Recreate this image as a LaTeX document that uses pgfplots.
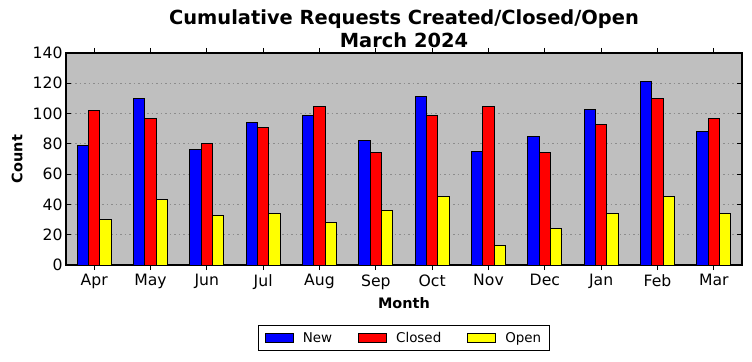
\documentclass[border=0pt]{standalone}
\usepackage{pgfplots}
\pgfplotsset{compat=1.18}
\usepackage{fontspec}
\setmainfont{DejaVu Sans}
\definecolor{bgc}{RGB}{191,191,191}
\definecolor{gridc}{RGB}{140,140,140}
\begin{document}
\begin{tikzpicture}[x=1bp,y=1bp]
\path[use as bounding box] (-66,-96) rectangle (686,265);
\begin{axis}[
  at={(0,0)}, anchor=south west,
  width=676bp, height=212bp, scale only axis,
  xmin=-0.5, xmax=11.5, ymin=0, ymax=140,
  ytick={0,20,...,140},
  xtick=data,
  xticklabels={Apr,May,Jun,Jul,Aug,Sep,Oct,Nov,Dec,Jan,Feb,Mar},
  tick pos=both, xticklabel pos=bottom, yticklabel pos=left,
  tick align=inside,
  major tick length=5bp,
  tick style={black, line width=0.8bp},
  axis line style={black, line width=1.2bp},
  axis background/.style={fill=bgc},
  ymajorgrids,
  major grid style={gridc, line width=0.8bp, dash pattern=on 1.5bp off 3bp},
  /pgf/number format/assume math mode=true,
  ticklabel style={font=\fontsize{15.7}{16}\selectfont},
  xticklabel style={yshift=-1bp},
  title={Cumulative Requests Created/Closed/Open\\March 2024},
  title style={font=\bfseries\fontsize{19.5}{23}\selectfont, align=center, at={(0.5,1)}, anchor=south, yshift=-4bp},
  xlabel={Month},
  ylabel={Count},
  label style={font=\bfseries\fontsize{14.5}{16}\selectfont},
  xlabel style={at={(axis description cs:0.5,0)}, anchor=center, yshift=-38bp},
  ylabel style={at={(axis description cs:-0.0725,0.5)}, anchor=center},
  ybar, bar width=0.2,
  legend columns=3,
  legend style={at={(axis description cs:0.5,-0.344)}, anchor=center, draw=black, line width=1bp,
    font=\fontsize{13.5}{15}\selectfont, inner xsep=6bp, inner ysep=4.5bp,
    /tikz/every odd column/.append style={column sep=7bp},
    /tikz/every even column/.append style={column sep=24bp}},
  legend image code/.code={\draw[#1, draw=black, line width=1bp] (0bp,-4.5bp) rectangle (28bp,4.5bp);},
]
\addplot[fill={rgb,255:red,0;green,0;blue,255}, draw=black, line width=1bp, bar shift=-0.2] coordinates {
(0,79) (1,110) (2,76) (3,94) (4,99) (5,82) (6,111) (7,75) (8,85) (9,103) (10,121) (11,88)};
\addlegendentry{New}
\addplot[fill={rgb,255:red,255;green,0;blue,0}, draw=black, line width=1bp, bar shift=0] coordinates {
(0,102) (1,97) (2,80) (3,91) (4,105) (5,74) (6,99) (7,105) (8,74) (9,93) (10,110) (11,97)};
\addlegendentry{Closed}
\addplot[fill={rgb,255:red,255;green,255;blue,0}, draw=black, line width=1bp, bar shift=0.2] coordinates {
(0,30) (1,43) (2,33) (3,34) (4,28) (5,36) (6,45) (7,13) (8,24) (9,34) (10,45) (11,34)};
\addlegendentry{Open}
\end{axis}
\end{tikzpicture}
\end{document}
